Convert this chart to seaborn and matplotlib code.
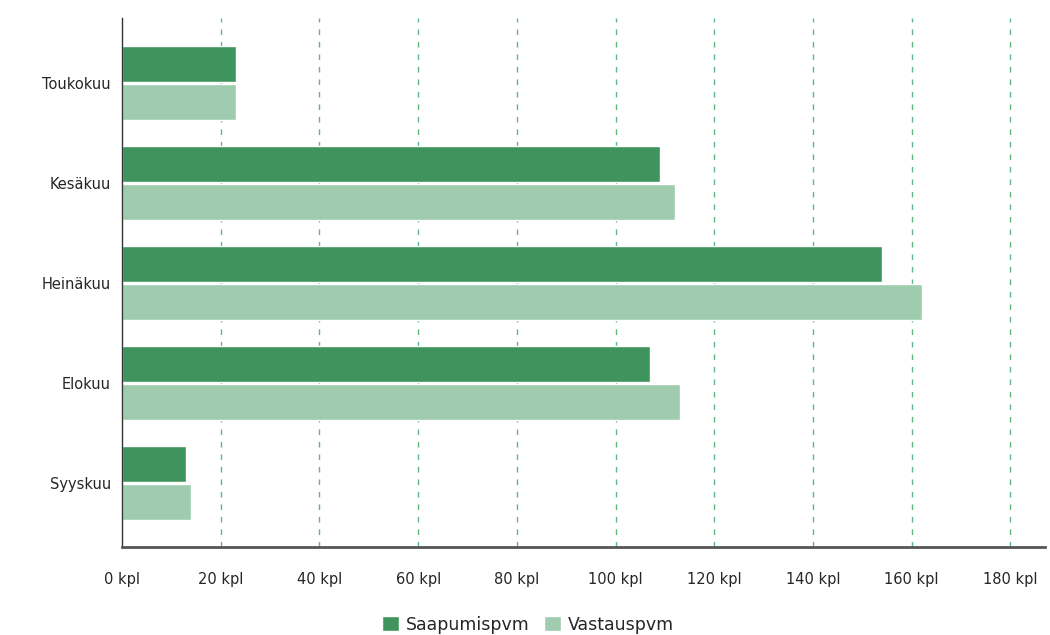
import pandas as pd
import numpy as np
import seaborn as sns
import matplotlib.pyplot as plt

months = ['Toukokuu', 'Kesäkuu', 'Heinäkuu', 'Elokuu', 'Syyskuu']
saapumispvm = [23, 109, 154, 107, 13]
vastauspvm = [23, 112, 162, 113, 14]
xticks = [0, 20, 40, 60, 80, 100, 120, 140, 160, 180]

df = pd.DataFrame({'Kuukausi': months * 2,
                   'Määrä': saapumispvm + vastauspvm,
                   'Sarja': ['Saapumispvm'] * len(months) + ['Vastauspvm'] * len(months)})

sns.set_theme(style='white')
plt.rcParams['font.family'] = ['DejaVu Sans']

fig = plt.figure(figsize=(10.5, 6.35), dpi=100)
ax = fig.add_axes([0.1162, 0.1386, 0.879, 0.833])
sns.barplot(data=df, x='Määrä', y='Kuukausi', hue='Sarja',
            palette=['#3f945d', '#9fcbae'], width=0.76, gap=0.07,
            saturation=1, ax=ax)

ax.set_xlim(0, 187)
ax.set_ylim(4.64, -0.65)
ax.set_xticks(xticks)
ax.set_xticklabels([f'{t} kpl' for t in xticks], fontsize=10.5)
ax.tick_params(axis='x', pad=18, length=0)
ax.tick_params(axis='y', pad=8, length=0, labelsize=10.5)
ax.set_xlabel('')
ax.set_ylabel('')
for t in xticks[1:]:
    ax.axvline(t, color='#5fb885', linestyle=(0, (4, 5)), linewidth=1, zorder=0)

sns.despine(ax=ax, top=True, right=True)
ax.spines['left'].set_color('#333333')
ax.spines['left'].set_linewidth(1)
ax.spines['bottom'].set_color('#555555')
ax.spines['bottom'].set_linewidth(2)

ax.legend(loc='upper center', bbox_to_anchor=(0.44, -0.1), ncol=2, frameon=False,
          fontsize=12.5, handlelength=1, handleheight=1, handletextpad=0.4,
          columnspacing=0.8)

plt.savefig('out.png', dpi=100)
